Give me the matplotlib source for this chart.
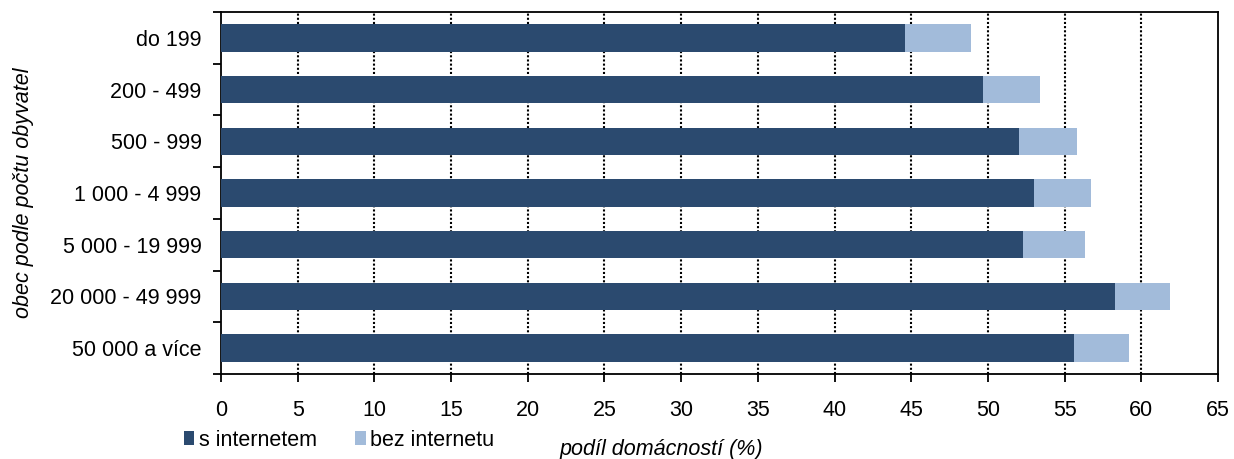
import numpy as np
import matplotlib.pyplot as plt

plt.rcParams['font.family'] = ['Liberation Sans', 'DejaVu Sans']

# data
categories = ['do 199', '200 - 499', '500 - 999', '1 000 - 4 999',
              '5 000 - 19 999', '20 000 - 49 999', '50 000 a více']
s_internetem = [44.6, 49.7, 52.0, 53.0, 52.3, 58.3, 55.6]
bez_internetu = [4.3, 3.7, 3.8, 3.7, 4.0, 3.6, 3.6]
x_ticks = list(range(0, 70, 5))

dark = '#2B4A6F'
light = '#A2BBDA'
fs = 15.5

fig = plt.figure(figsize=(12.34, 4.59), dpi=100)
ax = fig.add_axes([221 / 1234, 1 - 374 / 459, (1218 - 221) / 1234, (374 - 12) / 459])

y = np.arange(len(categories))
ax.barh(y, s_internetem, height=0.53, color=dark, label='s internetem', zorder=3)
ax.barh(y, bez_internetu, left=s_internetem, height=0.53, color=light,
        label='bez internetu', zorder=3)

ax.set_xlim(0, 65)
ax.set_ylim(len(categories) - 0.5, -0.5)
ax.set_xticks(x_ticks)
ax.set_xticklabels([str(t) for t in x_ticks], fontsize=fs)
ax.tick_params(axis='x', length=6, width=1.3, direction='out', pad=13)

ax.set_yticks(y)
ax.set_yticklabels(categories, fontsize=fs)
ax.set_yticks(np.arange(-0.5, len(categories), 1), minor=True)
ax.tick_params(axis='y', which='major', length=0, pad=14)
ax.tick_params(axis='y', which='minor', length=6, width=1.3, direction='out')

for t in x_ticks[1:-1]:
    ax.axvline(t, color='black', linestyle=(0, (1.0, 1.0)), linewidth=1.5, zorder=1)

for sp in ax.spines.values():
    sp.set_linewidth(1.3)
    sp.set_color('black')

ax.set_ylabel('obec podle počtu obyvatel', fontsize=fs, style='italic', labelpad=12)
fig.text(661 / 1234, 1 - 449 / 459, 'podíl domácností (%)', fontsize=fs,
         style='italic', ha='center', va='center')

fig.legend(loc='center left', bbox_to_anchor=(175 / 1234, 1 - 440 / 459), ncol=2,
           frameon=False, fontsize=fs, handlelength=0.5, handleheight=0.6,
           handletextpad=0.2, columnspacing=1.8, borderaxespad=0)

fig.savefig('out.png', dpi=100)
